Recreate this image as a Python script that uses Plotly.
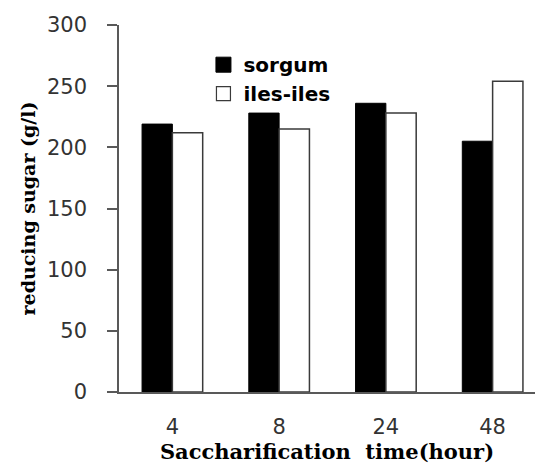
import plotly.graph_objects as go

# Reducing sugar yield per saccharification time
hours = ["4", "8", "24", "48"]
sorgum = [219, 228, 236, 205]
iles_iles = [212, 215, 228, 254]
y_ticks = [0, 50, 100, 150, 200, 250, 300]

x_pos = list(range(len(hours)))

fig = go.Figure()
fig.add_trace(go.Bar(
    x=x_pos, y=sorgum, name="sorgum", showlegend=False, legendgroup="s",
    marker=dict(color="black", line=dict(color="black", width=1)),
))
fig.add_trace(go.Bar(
    x=x_pos, y=iles_iles, name="iles-iles", showlegend=False, legendgroup="i",
    marker=dict(color="white", line=dict(color="#3a3a3a", width=1.5)),
))

# legend keys drawn as larger square markers
fig.add_trace(go.Scatter(
    x=[None], y=[None], mode="markers", name="sorgum", legendgroup="s",
    marker=dict(symbol="square", size=15, color="black", line=dict(color="black", width=1)),
))
fig.add_trace(go.Scatter(
    x=[None], y=[None], mode="markers", name="iles-iles", legendgroup="i",
    marker=dict(symbol="square", size=14, color="white", line=dict(color="#3a3a3a", width=1.2)),
))

fig.update_layout(
    width=535, height=469,
    margin=dict(l=119, r=0, t=25, b=77),
    paper_bgcolor="white", plot_bgcolor="white",
    barmode="group", bargap=0.432, bargroupgap=0,
    showlegend=True,
    legend=dict(
        x=0.203, y=0.945, xanchor="left", yanchor="top",
        bgcolor="rgba(0,0,0,0)",
        font=dict(family="DejaVu Sans", size=20, color="black", weight="bold"),
        tracegroupgap=0,
    ),
    xaxis=dict(
        range=[-0.5, 3.397],
        tickmode="array", tickvals=x_pos, ticktext=hours,
        showline=True, linecolor="#595959", linewidth=1.5,
        ticks="", showgrid=False, zeroline=False,
        tickfont=dict(family="DejaVu Sans", size=21, color="#333333"),
        ticklabelstandoff=15,
        title=dict(
            text="Saccharification  time(hour)",
            font=dict(family="DejaVu Serif", size=21, color="black", weight="bold"),
            standoff=2,
        ),
    ),
    yaxis=dict(
        range=[0, 300],
        tickmode="array", tickvals=y_ticks,
        showline=True, linecolor="#595959", linewidth=1.5,
        ticks="outside", ticklen=10, tickcolor="#595959", tickwidth=1.5,
        showgrid=False, zeroline=False,
        tickfont=dict(family="DejaVu Sans", size=21, color="#333333"),
        ticklabelstandoff=16,
        title=dict(
            text="reducing sugar (g/l)",
            font=dict(family="DejaVu Serif", size=19, color="black", weight="bold"),
            standoff=6,
        ),
    ),
)

fig.write_html("out.html")
